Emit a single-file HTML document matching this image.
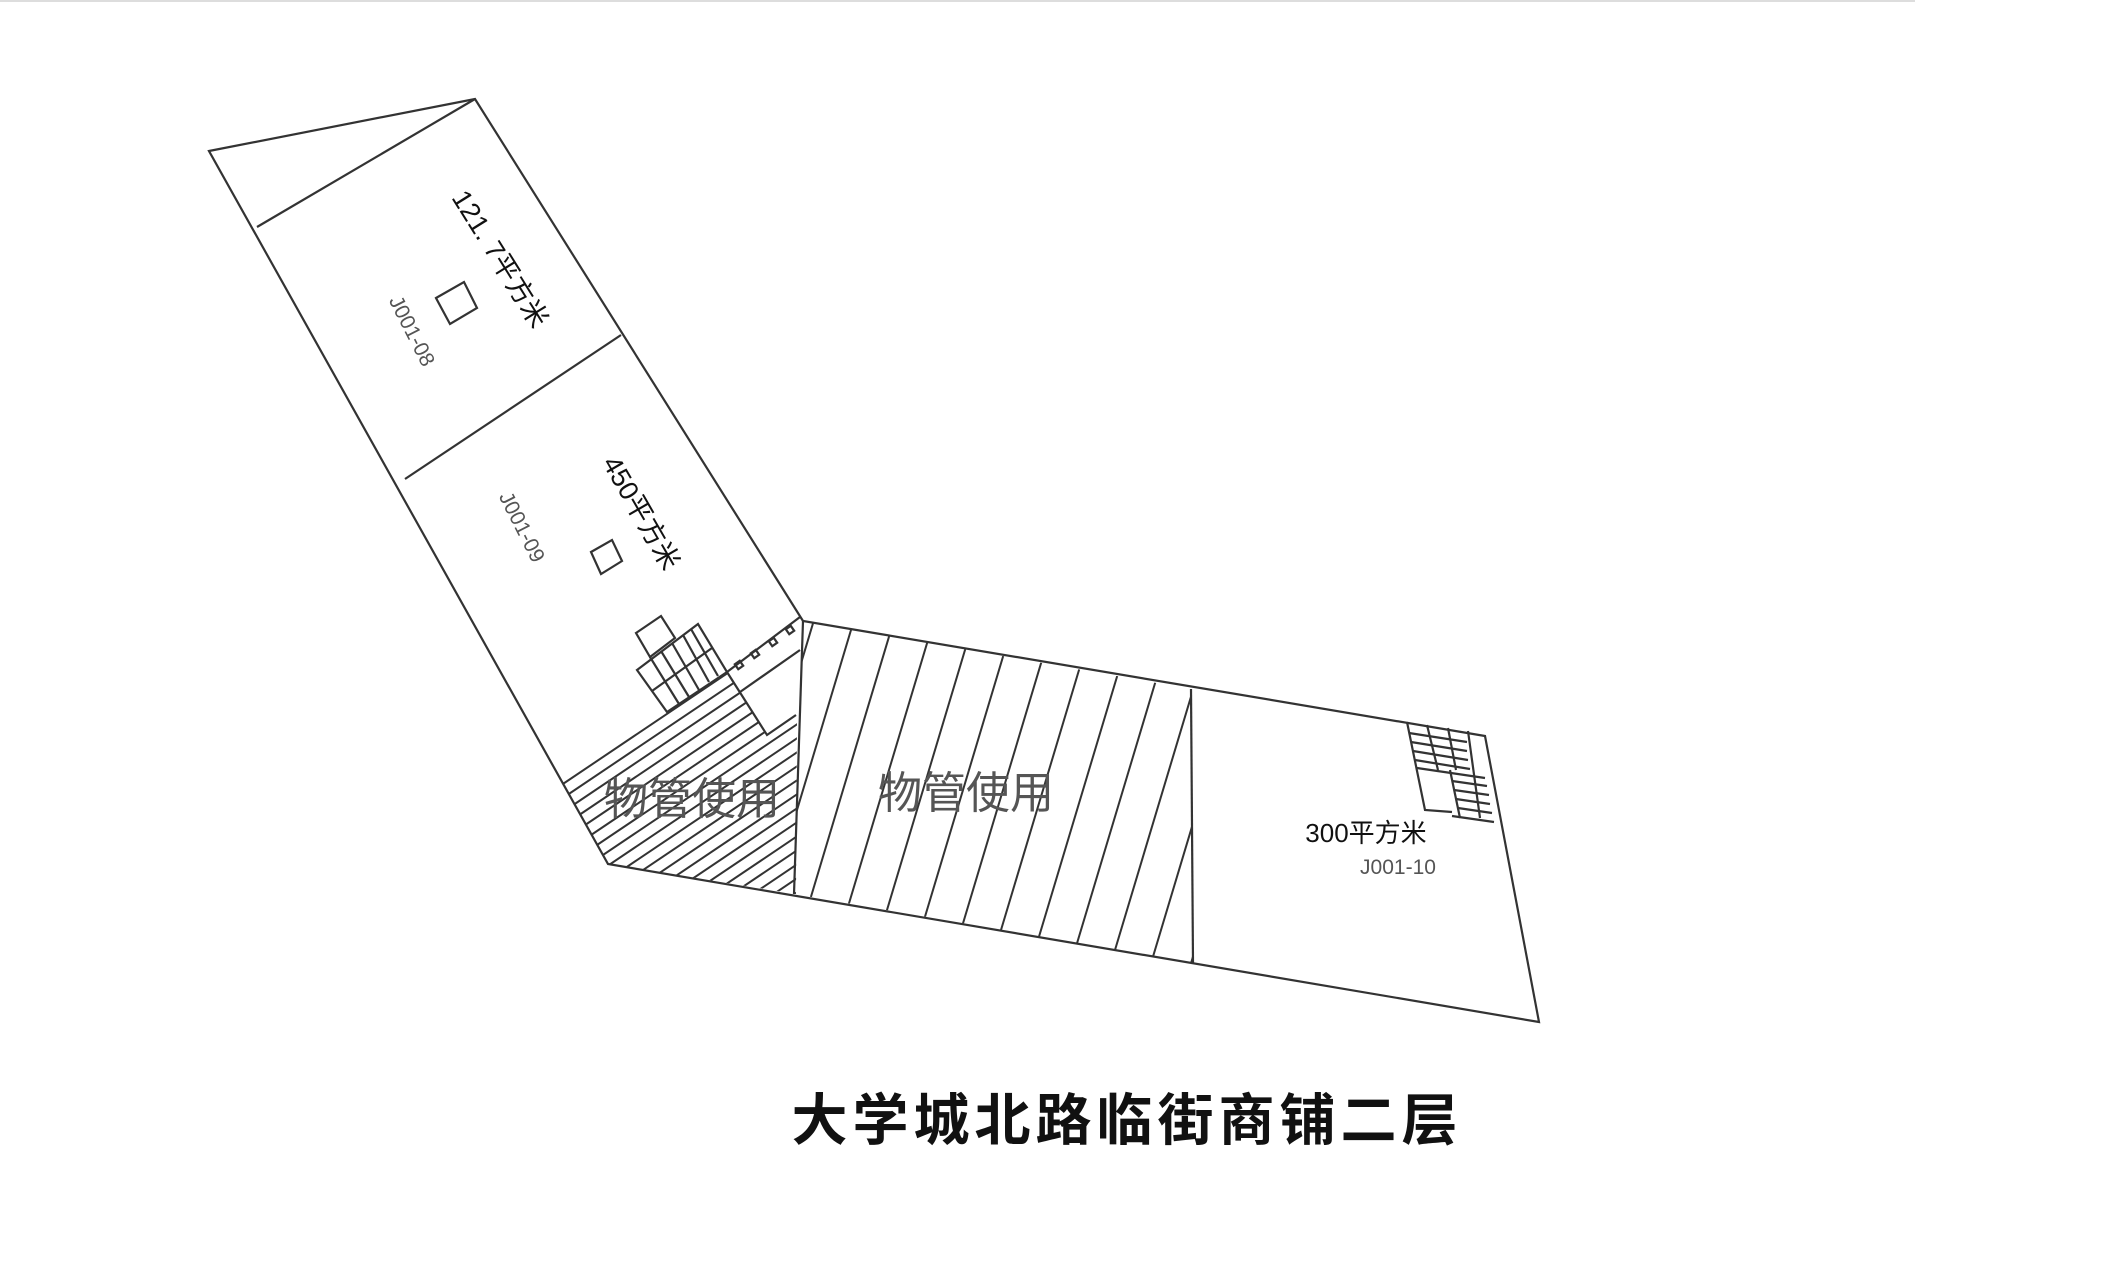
<!DOCTYPE html>
<html><head><meta charset="utf-8"><style>
html,body{margin:0;padding:0;background:#fff;width:2107px;height:1280px;overflow:hidden}
svg{display:block}
text{font-family:"Liberation Sans","Noto Sans CJK SC",sans-serif}
</style></head><body>
<svg width="2107" height="1280" viewBox="0 0 2107 1280" xmlns="http://www.w3.org/2000/svg">
<defs>
<clipPath id="cl"><polygon points="561,780 667,712 727,672 767,735 797,716 796,894 608,864"/></clipPath>
<clipPath id="cm"><polygon points="803,621 1191,689 1193,963 794,894"/></clipPath>
</defs>
<line x1="0" y1="1" x2="1915" y2="1" stroke="#ddd" stroke-width="2"/>
<g fill="none" stroke="#333" stroke-width="2.2">
<polygon points="209,151 475,99 803,621 1485,736 1539,1022 608,864"/>
<line x1="257" y1="227" x2="475" y2="99"/>
<line x1="405" y1="479" x2="621" y2="335"/>
<line x1="803" y1="621" x2="794" y2="894"/>
<line x1="1191" y1="689" x2="1193" y2="963"/>
<polygon points="436,298 464,282 477,308 450,324"/>
<polygon points="591,552 612,540 622,561 601,574"/>
<polygon points="636,633 661,616 675,638 650,657"/>
<polygon points="637,670 698,624 727,672 667,712"/>
<line x1="652" y1="691" x2="712" y2="648"/>
<g>
<line x1="650" y1="657" x2="679" y2="704"/>
<line x1="661" y1="651" x2="689" y2="697"/>
<line x1="672" y1="643" x2="699" y2="690"/>
<line x1="683" y1="635" x2="709" y2="682"/>
<line x1="691" y1="629" x2="718" y2="676"/>
</g>
<polyline points="727,672 767,735 796,715"/>
<line x1="727" y1="672" x2="800" y2="617"/>
<line x1="740" y1="692" x2="800" y2="650"/>
<rect x="736" y="662" width="6" height="6" transform="rotate(-35 739 665)"/>
<rect x="752" y="651" width="6" height="6" transform="rotate(-35 755 654)"/>
<rect x="770" y="639" width="6" height="6" transform="rotate(-35 773 642)"/>
<rect x="787" y="627" width="6" height="6" transform="rotate(-35 790 630)"/>
<polyline points="1407,722 1425,810 1452,812"/>
<line x1="1450" y1="770" x2="1460" y2="818"/>
<line x1="1427" y1="725" x2="1438" y2="770"/>
<line x1="1448" y1="728" x2="1456" y2="770"/>
<line x1="1468" y1="731" x2="1480" y2="818"/>
<line x1="1409" y1="733" x2="1467" y2="742"/>
<line x1="1411" y1="742" x2="1467" y2="751"/>
<line x1="1413" y1="751" x2="1468" y2="760"/>
<line x1="1415" y1="760" x2="1470" y2="769"/>
<line x1="1417" y1="768" x2="1485" y2="778"/>
<line x1="1452" y1="781" x2="1487" y2="786"/>
<line x1="1454" y1="790" x2="1489" y2="795"/>
<line x1="1456" y1="799" x2="1490" y2="804"/>
<line x1="1458" y1="808" x2="1492" y2="813"/>
<line x1="1452" y1="816" x2="1494" y2="822"/>
</g>
<g clip-path="url(#cl)" stroke="#333" stroke-width="2">
<line x1="450" y1="804" x2="900" y2="501"/>
<line x1="450" y1="818" x2="900" y2="515"/>
<line x1="450" y1="832" x2="900" y2="529"/>
<line x1="450" y1="846" x2="900" y2="543"/>
<line x1="450" y1="860" x2="900" y2="557"/>
<line x1="450" y1="874" x2="900" y2="571"/>
<line x1="450" y1="888" x2="900" y2="585"/>
<line x1="450" y1="902" x2="900" y2="599"/>
<line x1="450" y1="916" x2="900" y2="613"/>
<line x1="450" y1="930" x2="900" y2="627"/>
<line x1="450" y1="944" x2="900" y2="641"/>
<line x1="450" y1="958" x2="900" y2="655"/>
<line x1="450" y1="972" x2="900" y2="669"/>
<line x1="450" y1="986" x2="900" y2="683"/>
<line x1="450" y1="1000" x2="900" y2="697"/>
<line x1="450" y1="1014" x2="900" y2="711"/>
<line x1="450" y1="1028" x2="900" y2="725"/>
<line x1="450" y1="1042" x2="900" y2="739"/>
<line x1="450" y1="1056" x2="900" y2="753"/>
<line x1="450" y1="1070" x2="900" y2="767"/>
<line x1="450" y1="1084" x2="900" y2="781"/>
<line x1="450" y1="1098" x2="900" y2="795"/>
<line x1="450" y1="1112" x2="900" y2="809"/>
<line x1="450" y1="1126" x2="900" y2="823"/>
<line x1="450" y1="1140" x2="900" y2="837"/>
<line x1="450" y1="1154" x2="900" y2="851"/>
<line x1="450" y1="1168" x2="900" y2="865"/>
<line x1="450" y1="1182" x2="900" y2="879"/>
<line x1="450" y1="1196" x2="900" y2="893"/>
<line x1="450" y1="1210" x2="900" y2="907"/>
<line x1="450" y1="1224" x2="900" y2="921"/>
<line x1="450" y1="1238" x2="900" y2="935"/>
<line x1="450" y1="1252" x2="900" y2="949"/>
<line x1="450" y1="1266" x2="900" y2="963"/>
<line x1="450" y1="1280" x2="900" y2="977"/>
<line x1="450" y1="1294" x2="900" y2="991"/>
</g>
<g clip-path="url(#cm)" stroke="#333" stroke-width="2">
<line x1="700" y1="1000" x2="820" y2="600"/>
<line x1="740" y1="1000" x2="860" y2="600"/>
<line x1="780" y1="1000" x2="900" y2="600"/>
<line x1="820" y1="1000" x2="940" y2="600"/>
<line x1="860" y1="1000" x2="980" y2="600"/>
<line x1="900" y1="1000" x2="1020" y2="600"/>
<line x1="940" y1="1000" x2="1060" y2="600"/>
<line x1="980" y1="1000" x2="1100" y2="600"/>
<line x1="1020" y1="1000" x2="1140" y2="600"/>
<line x1="1060" y1="1000" x2="1180" y2="600"/>
<line x1="1100" y1="1000" x2="1220" y2="600"/>
<line x1="1140" y1="1000" x2="1260" y2="600"/>
<line x1="1180" y1="1000" x2="1300" y2="600"/>
</g>
<g fill="#111">
<text x="500" y="268" font-size="27" text-anchor="middle" transform="rotate(58 500 259)">121. 7平方米</text>
<text x="641" y="522" font-size="27" text-anchor="middle" transform="rotate(60 641 513)">450平方米</text>
<text x="1366" y="842" font-size="26" text-anchor="middle">300平方米</text>
</g>
<g fill="#555">
<text x="412" y="338" font-size="21" text-anchor="middle" transform="rotate(63 412 331)">J001-08</text>
<text x="522" y="534" font-size="21" text-anchor="middle" transform="rotate(63 522 527)">J001-09</text>
<text x="1398" y="874" font-size="21" text-anchor="middle">J001-10</text>
</g>
<g fill="#555">
<text x="692" y="814" font-size="44" text-anchor="middle">物管使用</text>
<text x="966" y="808" font-size="44" text-anchor="middle">物管使用</text>
</g>
<text x="1127" y="1140" font-size="56" font-weight="bold" text-anchor="middle" fill="#111" letter-spacing="5">大学城北路临街商铺二层</text>
</svg>
</body></html>
